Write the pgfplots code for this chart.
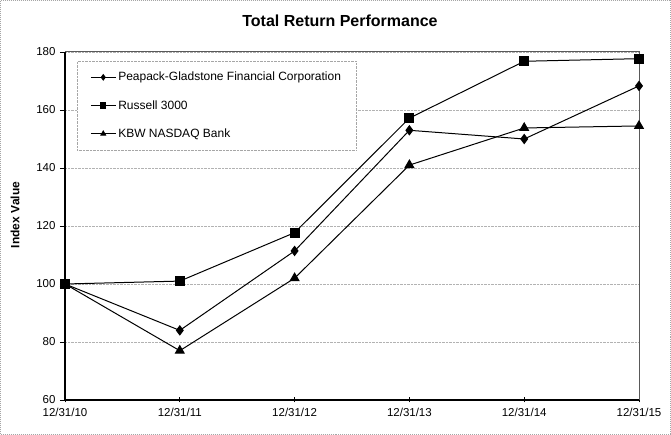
\documentclass[border=0pt]{standalone}
\usepackage{pgfplots}
\pgfplotsset{compat=1.18}
\usepackage{fontspec}
\setmainfont{Liberation Sans}
\begin{document}
\begin{tikzpicture}[x=1pt,y=1pt]
\useasboundingbox (0,0) rectangle (671,435);
\draw[gray!70, densely dotted, line width=1pt] (0.5,0.5) rectangle (670.5,434.5);
\begin{axis}[
  at={(65pt,35pt)}, anchor=south west,
  scale only axis, width=574pt, height=348pt,
  xmin=0, xmax=5, ymin=60, ymax=180,
  xtick={0,1,2,3,4,5},
  xticklabels={12/31/10,12/31/11,12/31/12,12/31/13,12/31/14,12/31/15},
  ytick={60,80,...,180},
  ymajorgrids, major grid style={gray!60, densely dotted, line width=0.6pt},
  axis x line*=bottom, axis y line*=left,
  axis line style={black, line width=1.2pt},
  x tick style={black, line width=0.8pt}, xtick align=center,
  y tick style={black, line width=0.8pt}, ytick align=outside,
  major tick length=5pt,
  tick label style={font=\fontsize{11.5}{13}\selectfont},
  /pgf/number format/assume math mode=true,
  xticklabel style={yshift=-2pt},
  yticklabel style={xshift=-1pt},
  title={\textbf{Total Return Performance}},
  title style={font=\fontsize{16}{18}\selectfont, at={(0.5,1)}, anchor=center, yshift=25pt, xshift=-12pt},
  clip=false,
  legend style={at={(0.021,0.974)}, anchor=north west, draw=gray!70, densely dotted,
    font=\fontsize{12}{14}\selectfont, row sep=14pt, inner xsep=13pt, inner ysep=9pt,
    cells={anchor=west}},
  legend image code/.code={\draw[solid,#1,mark=none] (0pt,0pt) -- (25pt,0pt); \draw[solid,#1,mark size=2.6pt] plot coordinates {(12.5pt,0pt)};},
]
\draw[gray!70!black, line width=1pt] (rel axis cs:0,1) -- (rel axis cs:1,1) -- (rel axis cs:1,0);
\addplot[black, line width=1pt, mark=diamond*, mark size=4.5pt, mark options={solid}] coordinates {
 (0,100) (1,84) (2,111.4) (3,153) (4,150) (5,168.3)};
\addlegendentry{Peapack-Gladstone Financial Corporation}
\addplot[black, line width=1pt, mark=square*, mark size=4.5pt, mark options={solid}] coordinates {
 (0,100) (1,101) (2,117.7) (3,157.2) (4,176.8) (5,177.7)};
\addlegendentry{Russell 3000}
\addplot[black, line width=1pt, mark=triangle*, mark size=5pt, mark options={solid}] coordinates {
 (0,100) (1,77) (2,102) (3,141) (4,153.8) (5,154.5)};
\addlegendentry{KBW NASDAQ Bank}
\end{axis}
\node[rotate=90, font=\fontsize{12}{14}\selectfont\bfseries] at (15,220) {Index Value};
\end{tikzpicture}
\end{document}
